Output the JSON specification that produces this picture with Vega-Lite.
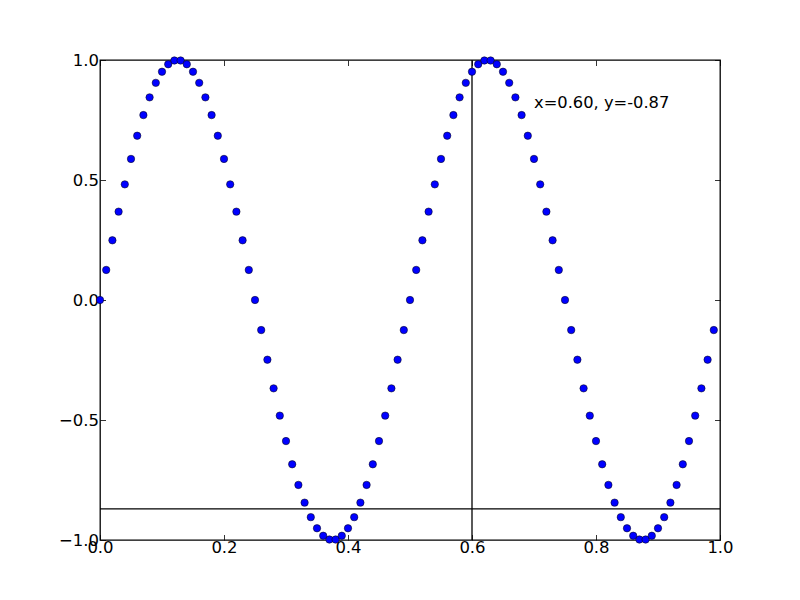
{
  "$schema": "https://vega.github.io/schema/vega-lite/v6.json",
  "width": 620,
  "height": 480,
  "autosize": "none",
  "padding": {"left": 100, "top": 60, "right": 80, "bottom": 60},
  "background": "white",
  "config": {
    "view": {"stroke": "black", "strokeWidth": 1.3},
    "font": "DejaVu Sans",
    "axis": {
      "domain": false,
      "grid": false,
      "ticks": true,
      "tickColor": "black",
      "tickSize": -5.5,
      "tickWidth": 0.8,
      "labelFont": "DejaVu Sans",
      "labelFontSize": 16.5,
      "labelColor": "black",
      "title": null
    }
  },
  "datasets": {
    "pts": [
      {"x": 0.00, "y": 0.0}, {"x": 0.01, "y": 0.1253}, {"x": 0.02, "y": 0.2487}, {"x": 0.03, "y": 0.3681}, {"x": 0.04, "y": 0.4818},
      {"x": 0.05, "y": 0.5878}, {"x": 0.06, "y": 0.6845}, {"x": 0.07, "y": 0.7705}, {"x": 0.08, "y": 0.8443}, {"x": 0.09, "y": 0.9048},
      {"x": 0.10, "y": 0.9511}, {"x": 0.11, "y": 0.9823}, {"x": 0.12, "y": 0.998}, {"x": 0.13, "y": 0.998}, {"x": 0.14, "y": 0.9823},
      {"x": 0.15, "y": 0.9511}, {"x": 0.16, "y": 0.9048}, {"x": 0.17, "y": 0.8443}, {"x": 0.18, "y": 0.7705}, {"x": 0.19, "y": 0.6845},
      {"x": 0.20, "y": 0.5878}, {"x": 0.21, "y": 0.4818}, {"x": 0.22, "y": 0.3681}, {"x": 0.23, "y": 0.2487}, {"x": 0.24, "y": 0.1253},
      {"x": 0.25, "y": 0.0}, {"x": 0.26, "y": -0.1253}, {"x": 0.27, "y": -0.2487}, {"x": 0.28, "y": -0.3681}, {"x": 0.29, "y": -0.4818},
      {"x": 0.30, "y": -0.5878}, {"x": 0.31, "y": -0.6845}, {"x": 0.32, "y": -0.7705}, {"x": 0.33, "y": -0.8443}, {"x": 0.34, "y": -0.9048},
      {"x": 0.35, "y": -0.9511}, {"x": 0.36, "y": -0.9823}, {"x": 0.37, "y": -0.998}, {"x": 0.38, "y": -0.998}, {"x": 0.39, "y": -0.9823},
      {"x": 0.40, "y": -0.9511}, {"x": 0.41, "y": -0.9048}, {"x": 0.42, "y": -0.8443}, {"x": 0.43, "y": -0.7705}, {"x": 0.44, "y": -0.6845},
      {"x": 0.45, "y": -0.5878}, {"x": 0.46, "y": -0.4818}, {"x": 0.47, "y": -0.3681}, {"x": 0.48, "y": -0.2487}, {"x": 0.49, "y": -0.1253},
      {"x": 0.50, "y": 0.0}, {"x": 0.51, "y": 0.1253}, {"x": 0.52, "y": 0.2487}, {"x": 0.53, "y": 0.3681}, {"x": 0.54, "y": 0.4818},
      {"x": 0.55, "y": 0.5878}, {"x": 0.56, "y": 0.6845}, {"x": 0.57, "y": 0.7705}, {"x": 0.58, "y": 0.8443}, {"x": 0.59, "y": 0.9048},
      {"x": 0.60, "y": 0.9511}, {"x": 0.61, "y": 0.9823}, {"x": 0.62, "y": 0.998}, {"x": 0.63, "y": 0.998}, {"x": 0.64, "y": 0.9823},
      {"x": 0.65, "y": 0.9511}, {"x": 0.66, "y": 0.9048}, {"x": 0.67, "y": 0.8443}, {"x": 0.68, "y": 0.7705}, {"x": 0.69, "y": 0.6845},
      {"x": 0.70, "y": 0.5878}, {"x": 0.71, "y": 0.4818}, {"x": 0.72, "y": 0.3681}, {"x": 0.73, "y": 0.2487}, {"x": 0.74, "y": 0.1253},
      {"x": 0.75, "y": 0.0}, {"x": 0.76, "y": -0.1253}, {"x": 0.77, "y": -0.2487}, {"x": 0.78, "y": -0.3681}, {"x": 0.79, "y": -0.4818},
      {"x": 0.80, "y": -0.5878}, {"x": 0.81, "y": -0.6845}, {"x": 0.82, "y": -0.7705}, {"x": 0.83, "y": -0.8443}, {"x": 0.84, "y": -0.9048},
      {"x": 0.85, "y": -0.9511}, {"x": 0.86, "y": -0.9823}, {"x": 0.87, "y": -0.998}, {"x": 0.88, "y": -0.998}, {"x": 0.89, "y": -0.9823},
      {"x": 0.90, "y": -0.9511}, {"x": 0.91, "y": -0.9048}, {"x": 0.92, "y": -0.8443}, {"x": 0.93, "y": -0.7705}, {"x": 0.94, "y": -0.6845},
      {"x": 0.95, "y": -0.5878}, {"x": 0.96, "y": -0.4818}, {"x": 0.97, "y": -0.3681}, {"x": 0.98, "y": -0.2487}, {"x": 0.99, "y": -0.1253}
    ],
    "cursor": [{"cx": 0.6, "cy": -0.87, "tx": 0.7, "ty": 0.8, "label": "x=0.60, y=-0.87"}]
  },
  "resolve": {"axis": {"x": "independent", "y": "independent"}},
  "layer": [
    {
      "data": {"name": "cursor"},
      "mark": {"type": "rule", "color": "black", "strokeWidth": 1.3},
      "encoding": {
        "x": {"field": "cx", "type": "quantitative", "scale": {"domain": [0, 1], "nice": false, "zero": false},
              "axis": {"orient": "bottom", "values": [0, 0.2, 0.4, 0.6, 0.8, 1.0], "format": ".1f", "labelPadding": 5, "labelFlush": false, "labelOverlap": false}}
      }
    },
    {
      "data": {"name": "cursor"},
      "mark": {"type": "rule", "color": "black", "strokeWidth": 1.3},
      "encoding": {
        "y": {"field": "cy", "type": "quantitative", "scale": {"domain": [-1, 1], "nice": false, "zero": false},
              "axis": {"orient": "left", "values": [-1, -0.5, 0, 0.5, 1], "format": ".1f", "labelPadding": 7, "labelFlush": false, "labelOverlap": false}}
      }
    },
    {
      "data": {"name": "pts"},
      "mark": {"type": "point", "shape": "circle", "filled": true, "fill": "#0000ff", "stroke": "black", "strokeWidth": 0.5, "size": 55, "opacity": 1, "clip": false},
      "encoding": {
        "x": {"field": "x", "type": "quantitative", "scale": {"domain": [0, 1], "nice": false, "zero": false},
              "axis": {"orient": "top", "values": [0, 0.2, 0.4, 0.6, 0.8, 1.0], "labels": false}},
        "y": {"field": "y", "type": "quantitative", "scale": {"domain": [-1, 1], "nice": false, "zero": false},
              "axis": {"orient": "right", "values": [-1, -0.5, 0, 0.5, 1], "labels": false}}
      }
    },
    {
      "data": {"name": "cursor"},
      "mark": {"type": "text", "align": "left", "baseline": "alphabetic", "font": "DejaVu Sans", "fontSize": 16.3, "color": "black"},
      "encoding": {
        "x": {"field": "tx", "type": "quantitative", "scale": {"domain": [0, 1], "nice": false, "zero": false}, "axis": null},
        "y": {"field": "ty", "type": "quantitative", "scale": {"domain": [-1, 1], "nice": false, "zero": false}, "axis": null},
        "text": {"field": "label"}
      }
    }
  ]
}
